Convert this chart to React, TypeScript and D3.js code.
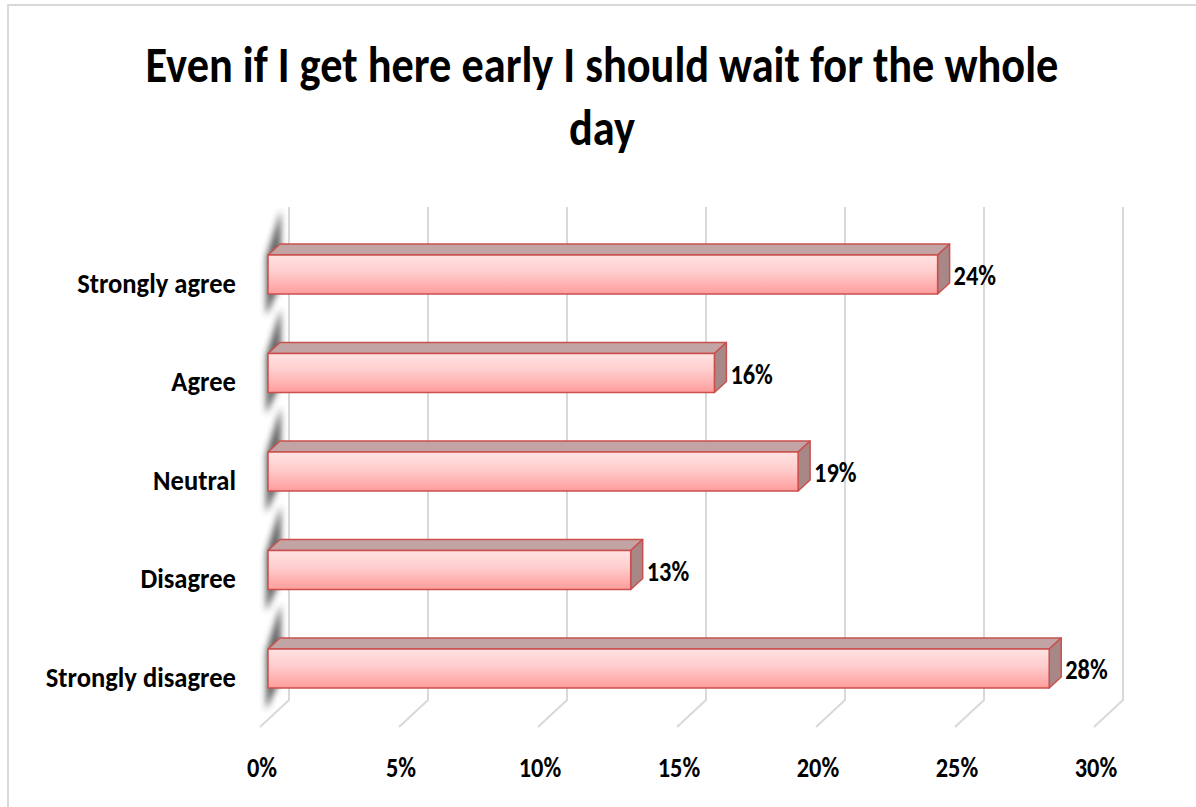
import React from "react";
import * as d3 from "d3";

const titleLines = ["Even if I get here early I should wait for the whole", "day"];
const categories = ["Strongly agree", "Agree", "Neutral", "Disagree", "Strongly disagree"];
const values = [24, 16, 19, 13, 28];
const ticks = [0, 5, 10, 15, 20, 25, 30];

const W = 1196;
const H = 807;
const FONT = "Carlito, Lato, 'Open Sans', sans-serif";
const SX = 0.87;

export default function App() {
  // front plane of bars
  const xf = d3.scaleLinear().domain([0, 30]).range([268, 1105]);
  // back wall
  const xb = d3.scaleLinear().domain([0, 30]).range([289, 1123]);
  // floor front
  const xFloor = d3.scaleLinear().domain([0, 30]).range([260, 1094]);
  const y = d3.scalePoint<string>().domain(categories).range([274.5, 668.5]);
  const barH = 39;
  const dX = 12, dY = -11;
  const wallTop = 207, wallBottom = 700, floorFront = 727;

  const sText = (x: number, yy: number, anchor: string, size: number, txt: string, key: any, sx = SX) => (
    <text key={key} transform={`translate(${x},${yy}) scale(${sx},1)`} textAnchor={anchor}
      fontFamily={FONT} fontWeight={700} fontSize={size} fill="#000">{txt}</text>
  );

  return (
    <svg width={W} height={H} style={{ position: "absolute", left: 0, top: 0 }} xmlns="http://www.w3.org/2000/svg">
      <defs>
        <linearGradient id="front" x1="0" y1="0" x2="0" y2="1">
          <stop offset="0" stopColor="#ffe3e3" />
          <stop offset="0.45" stopColor="#ffcccc" />
          <stop offset="1" stopColor="#ff9c9c" />
        </linearGradient>
        <filter id="blur" x="-1" y="-1" width="3" height="3">
          <feGaussianBlur stdDeviation="3" />
        </filter>
      </defs>
      <rect x={0} y={0} width={W} height={H} fill="#fff" />
      <rect x={8} y={5} width={W + 10} height={H + 10} fill="none" stroke="#d9d9d9" strokeWidth={2} />

      {/* title */}
      {titleLines.map((t, i) => sText(602, 82 + i * 63, "middle", 51, t, "t" + i))}

      {/* gridlines */}
      {ticks.map((t) => (
        <path key={"g" + t}
          d={`M${xb(t)},${wallTop}L${xb(t)},${wallBottom}L${xFloor(t)},${floorFront}`}
          fill="none" stroke="#d9d9d9" strokeWidth={2} />
      ))}

      {/* shadows on left wall */}
      {categories.map((c) => {
        const top = (y(c) as number) - barH / 2;
        const bot = top + barH;
        return (
          <polygon key={"s" + c}
            points={`266,${bot + 22} 266,${top + 2} 281,${top - 45} 281,${bot - 10}`}
            fill="#333" opacity={0.75} filter="url(#blur)" />
        );
      })}

      {/* bars */}
      {categories.map((c, i) => {
        const top = (y(c) as number) - barH / 2;
        const bot = top + barH;
        const x0 = xf(0), x1 = xf(values[i]);
        return (
          <g key={"b" + c} stroke="#c9504e" strokeWidth={1.5} strokeLinejoin="round">
            <polygon points={`${x0},${top} ${x0 + dX},${top + dY} ${x1 + dX},${top + dY} ${x1},${top}`} fill="#c3a4a4" />
            <polygon points={`${x1},${top} ${x1 + dX},${top + dY} ${x1 + dX},${bot + dY} ${x1},${bot}`} fill="#a88787" />
            <rect x={x0} y={top} width={x1 - x0} height={barH} fill="url(#front)" />
          </g>
        );
      })}

      {/* value labels */}
      {categories.map((c, i) => sText(xf(values[i]) + dX + 4, (y(c) as number) + 10.5, "start", 28, `${values[i]}%`, "v" + c))}

      {/* category labels */}
      {categories.map((c) => sText(236, (y(c) as number) + 18, "end", 28, c, "c" + c, 0.95))}

      {/* tick labels */}
      {ticks.map((t) => sText(xFloor(t) + 2, 777, "middle", 28, `${t}%`, "k" + t))}
    </svg>
  );
}
